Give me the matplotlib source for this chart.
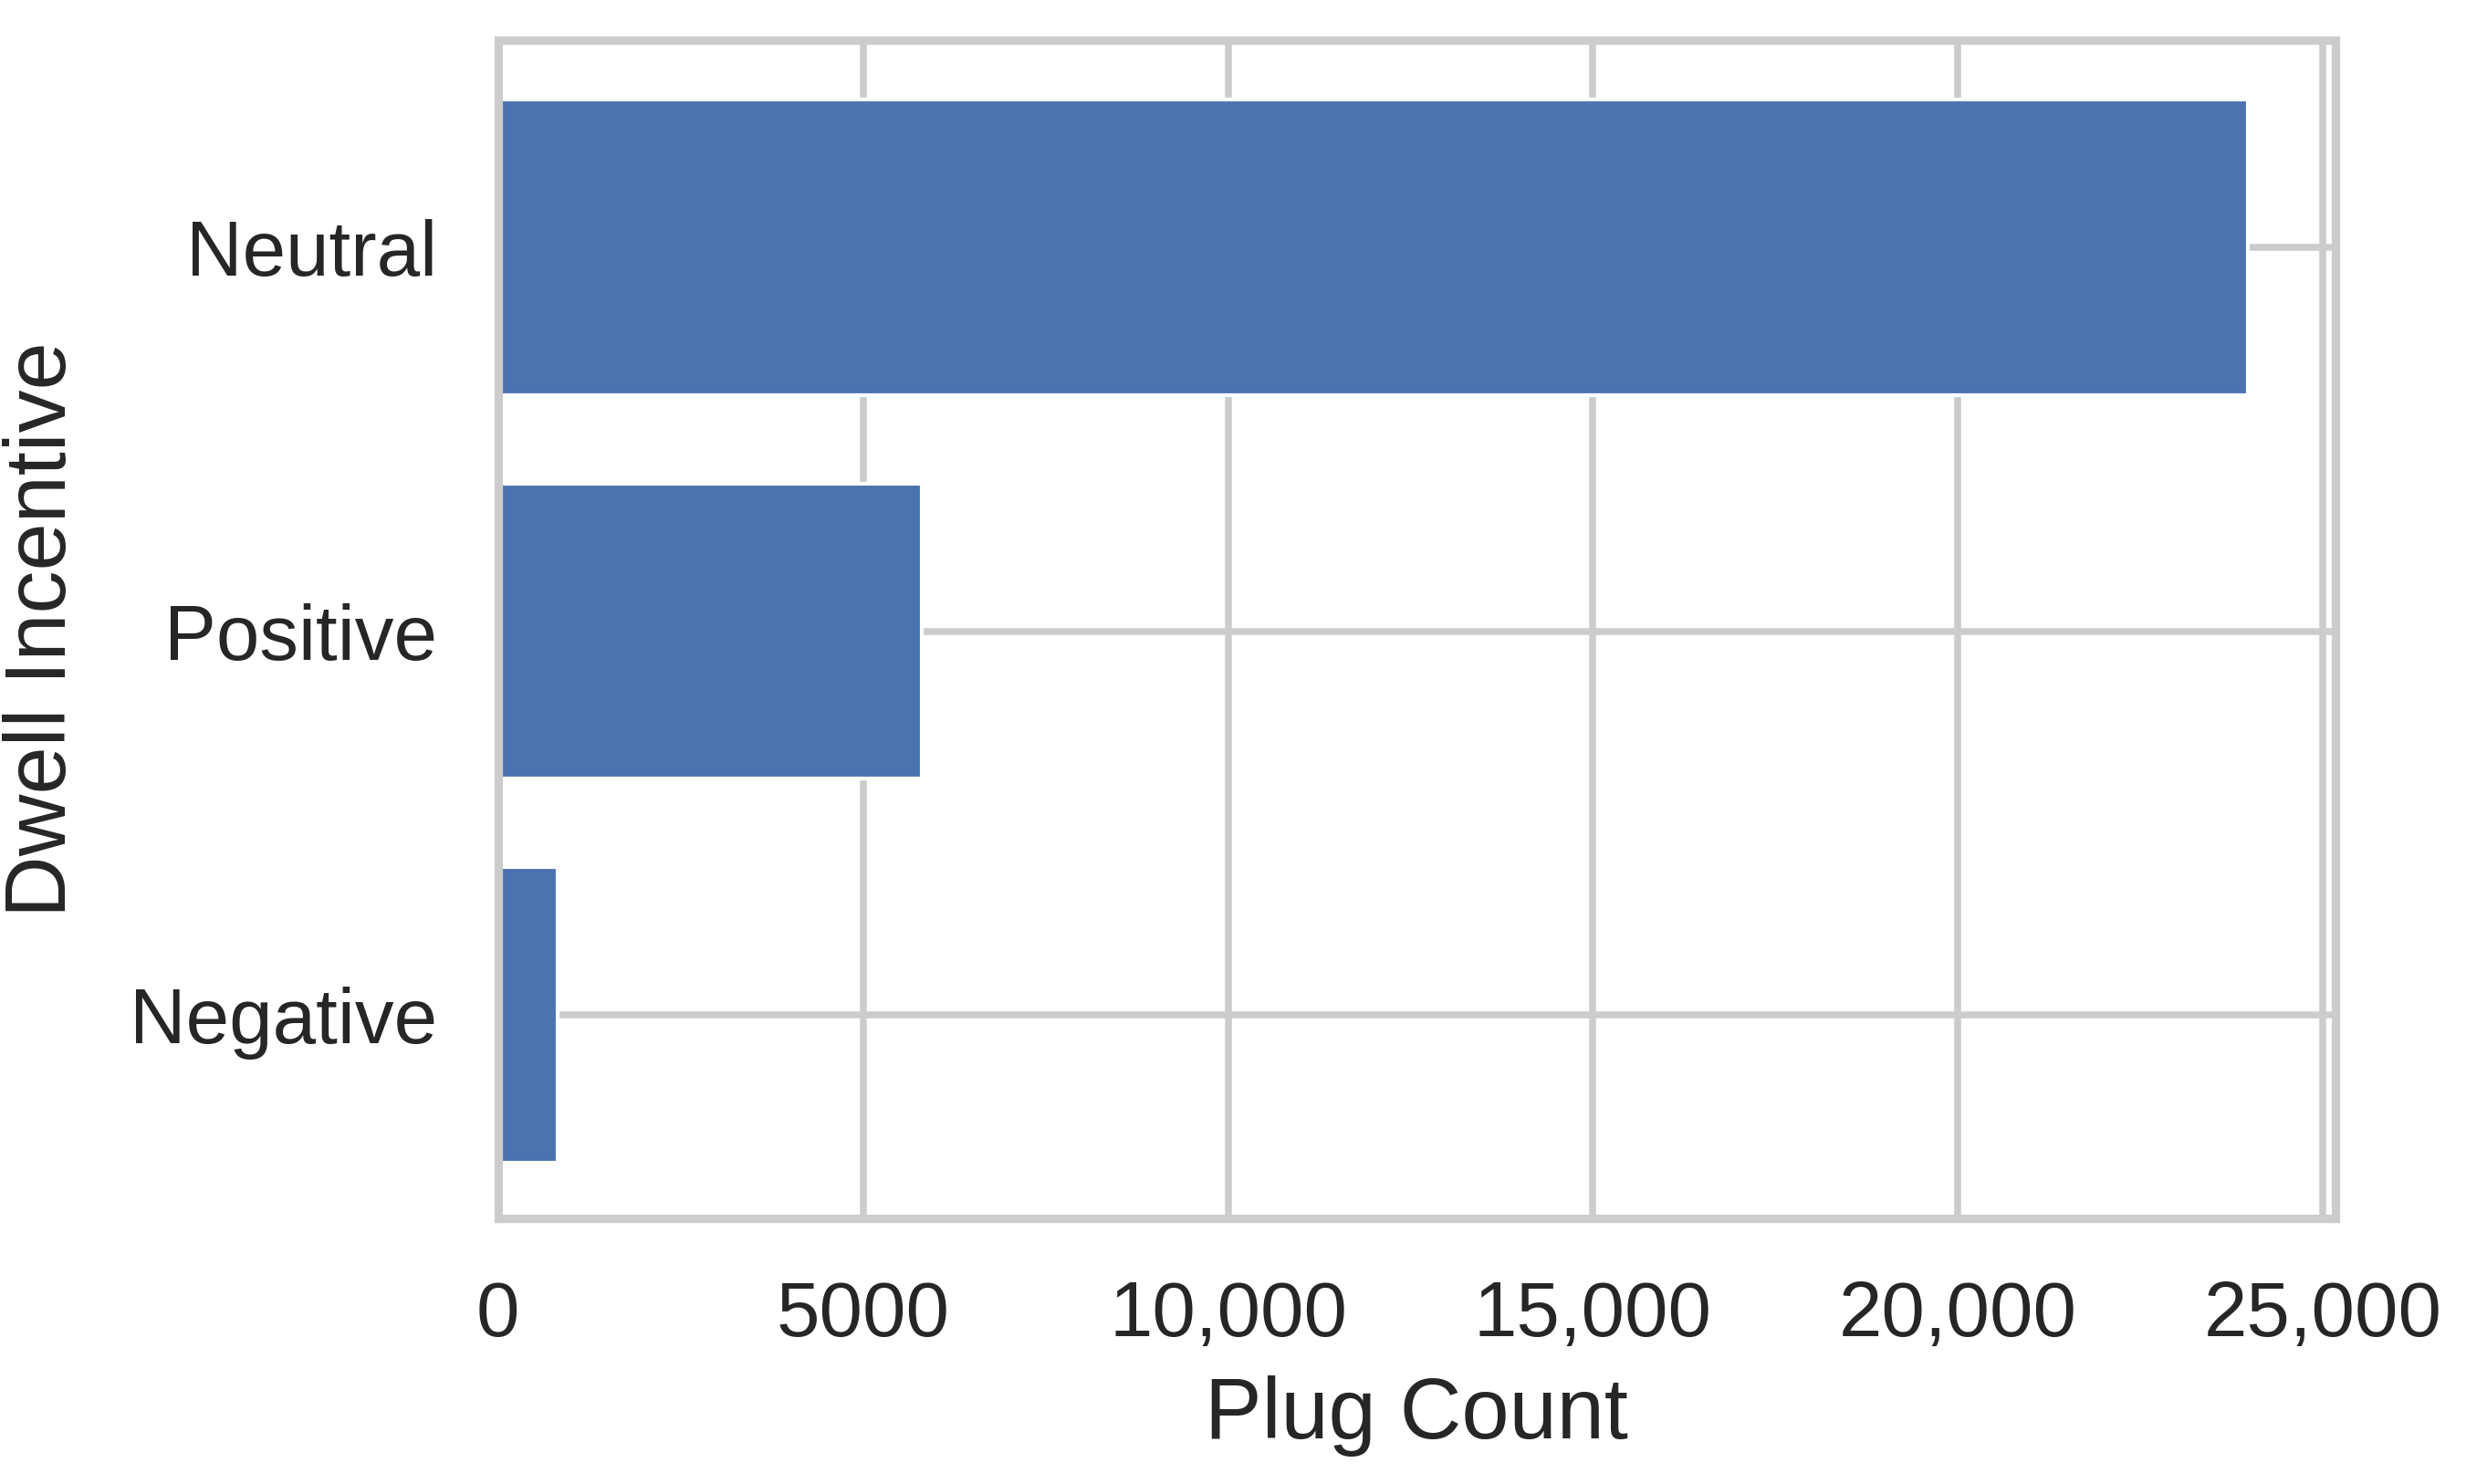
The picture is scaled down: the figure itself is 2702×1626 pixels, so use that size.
import matplotlib
matplotlib.use("Agg")
import matplotlib.pyplot as plt
import seaborn as sns

categories = ["Negative", "Positive", "Neutral"]
counts = [820, 5800, 23970]
xticks = [0, 5000, 10000, 15000, 20000, 25000]
xticklabels = ["0", "5000", "10,000", "15,000", "20,000", "25,000"]

sns.set_theme(style="whitegrid")
plt.rcParams['font.family'] = ['Liberation Sans', 'DejaVu Sans']

fig = plt.figure(figsize=(2702/300, 1626/300), dpi=300)
ax = fig.add_axes([0.202, 0.179, 0.745, 0.794])
ax.barh(categories, counts, height=0.77, color="#4c72b0")
ax.set_xlim(0, 25170)
ax.set_ylim(-0.53, 2.54)
ax.set_xticks(xticks)
ax.set_xticklabels(xticklabels)
ax.tick_params(labelsize=20.5, colors="#262626", pad=10)
ax.grid(True, color="#cccccc", linewidth=1.8)
for s in ax.spines.values():
    s.set_color("#cccccc")
    s.set_linewidth(2.2)
ax.set_xlabel("Plug Count", fontsize=22.5, color="#262626", labelpad=6)
ax.set_ylabel("Dwell Incentive", fontsize=22.5, color="#262626", labelpad=12)
fig.savefig("out.png", dpi=300)
